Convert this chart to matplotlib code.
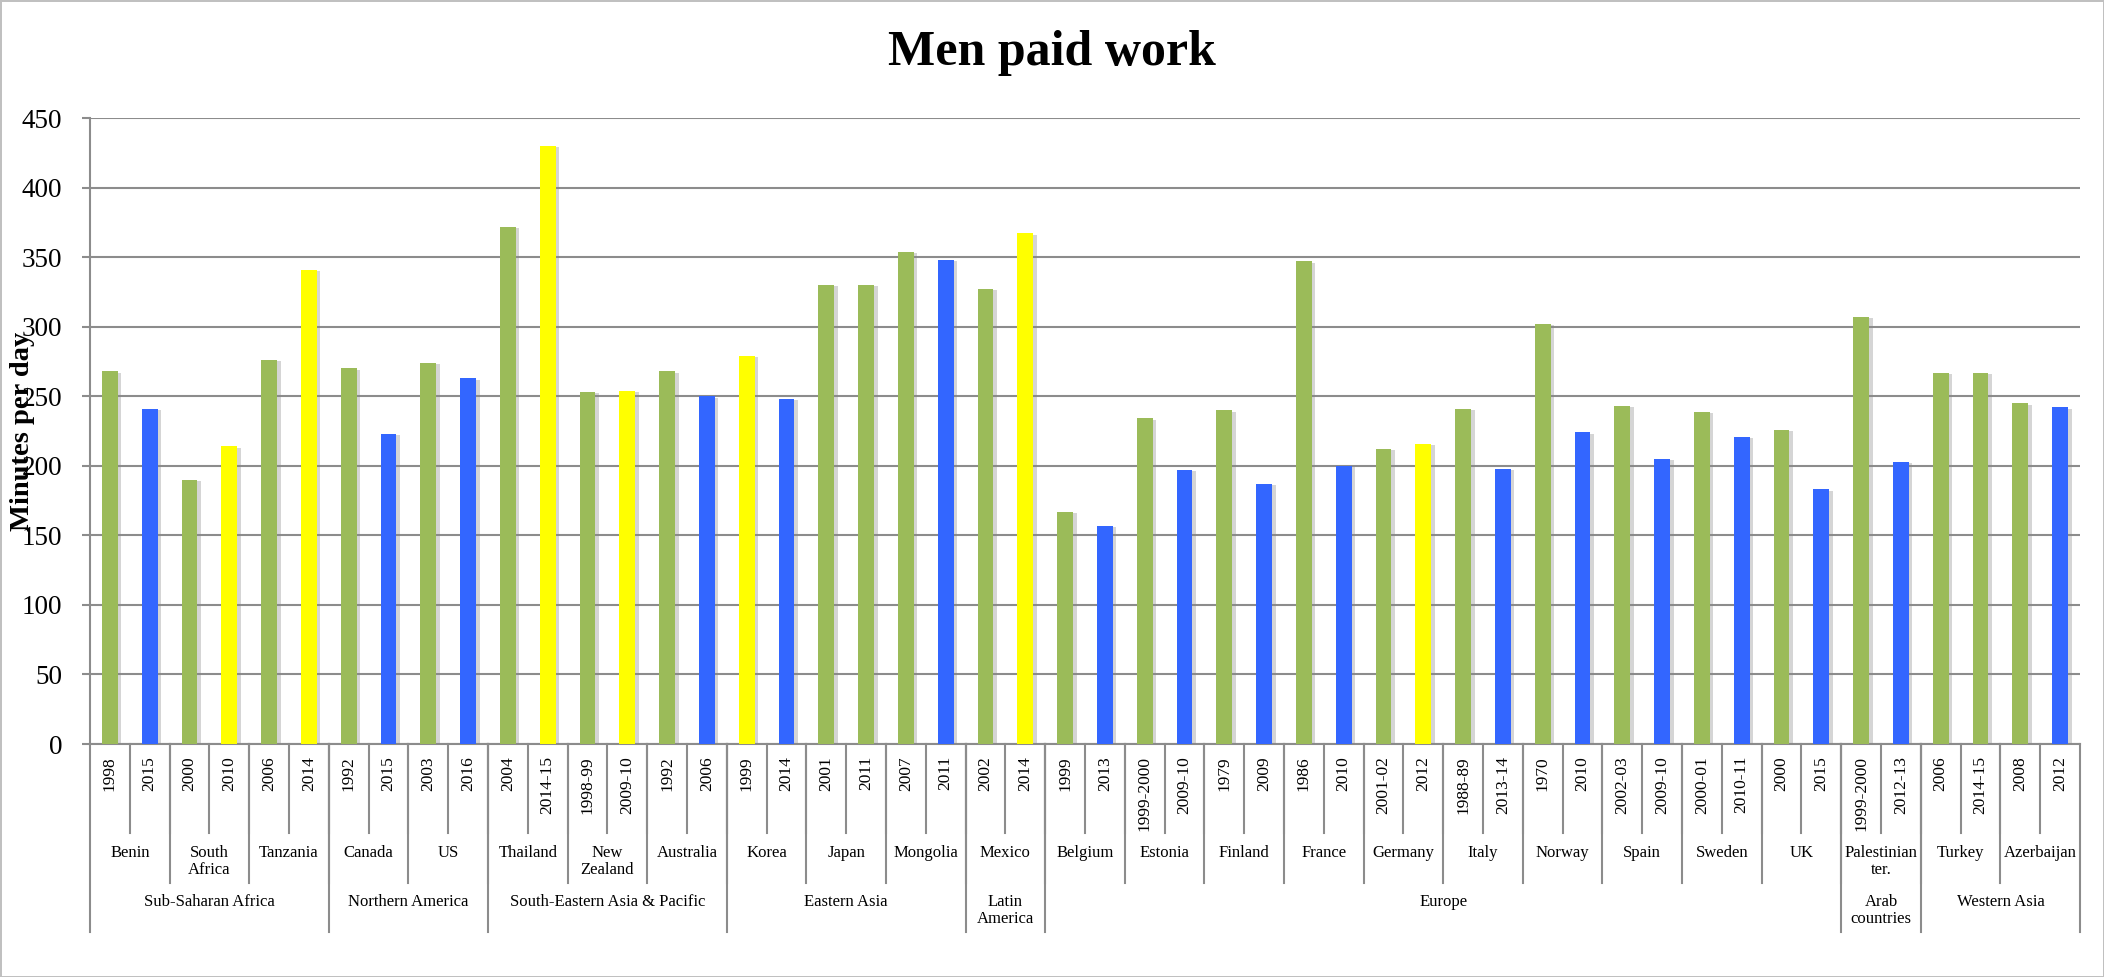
import matplotlib.pyplot as plt
import matplotlib.patheffects as pe
import matplotlib.transforms as mtransforms

# minutes per day spent in paid work by men, two surveys per country
years = ['1998', '2015', '2000', '2010', '2006', '2014', '1992', '2015', '2003', '2016',
         '2004', '2014-15', '1998-99', '2009-10', '1992', '2006', '1999', '2014', '2001', '2011',
         '2007', '2011', '2002', '2014', '1999', '2013', '1999-2000', '2009-10', '1979', '2009',
         '1986', '2010', '2001-02', '2012', '1988-89', '2013-14', '1970', '2010', '2002-03', '2009-10',
         '2000-01', '2010-11', '2000', '2015', '1999-2000', '2012-13', '2006', '2014-15', '2008', '2012']

minutes = [268, 241, 190, 214, 276, 341, 270, 223, 274, 263,
           372, 430, 253, 254, 268, 250, 279, 248, 330, 330,
           354, 348, 327, 367, 167, 157, 234, 197, 240, 187,
           347, 200, 212, 216, 241, 198, 302, 224, 243, 205,
           239, 221, 226, 183, 307, 203, 267, 267, 245, 242]

# series group of every bar (A / B / C)
series = ['A', 'B', 'A', 'C', 'A', 'C', 'A', 'B', 'A', 'B',
          'A', 'C', 'A', 'C', 'A', 'B', 'C', 'B', 'A', 'A',
          'A', 'B', 'A', 'C', 'A', 'B', 'A', 'B', 'A', 'B',
          'A', 'B', 'A', 'C', 'A', 'B', 'A', 'B', 'A', 'B',
          'A', 'B', 'A', 'B', 'A', 'B', 'A', 'A', 'A', 'B']

countries = ['Benin', 'South\nAfrica', 'Tanzania', 'Canada', 'US', 'Thailand', 'New\nZealand',
             'Australia', 'Korea', 'Japan', 'Mongolia', 'Mexico', 'Belgium', 'Estonia', 'Finland',
             'France', 'Germany', 'Italy', 'Norway', 'Spain', 'Sweden', 'UK', 'Palestinian\nter.',
             'Turkey', 'Azerbaijan']

regions = ['Sub-Saharan Africa', 'Northern America', 'South-Eastern Asia & Pacific', 'Eastern Asia',
           'Latin\nAmerica', 'Europe', 'Arab\ncountries', 'Western Asia']
countries_in_region = [3, 2, 3, 3, 1, 10, 1, 2]

palette = {'A': '#9BBB59', 'B': '#3366FF', 'C': '#FFFF00'}
grid_col = '#8c8c8c'

fig = plt.figure(figsize=(21.04, 9.77), dpi=100)
fig.patch.set_edgecolor('#c0c0c0')
fig.patch.set_linewidth(2)
ax = fig.add_axes([90 / 2104, 1 - 744 / 977, 1990 / 2104, 626 / 977])

x = list(range(len(minutes)))
bars = ax.bar(x, minutes, width=0.4, color=[palette[s] for s in series], zorder=3)
for b in bars:
    b.set_path_effects([pe.SimplePatchShadow(offset=(2.5, -1), shadow_rgbFace='#888888', alpha=0.35),
                        pe.Normal()])

ax.set_xlim(-0.5, len(minutes) - 0.5)
ax.set_ylim(0, 450)
ax.set_yticks(range(0, 451, 50))
ax.yaxis.grid(True, color=grid_col, lw=1.5, zorder=0)
ax.set_axisbelow(True)
for s in ['top', 'right']:
    ax.spines[s].set_visible(False)
for s in ['left', 'bottom']:
    ax.spines[s].set_color(grid_col)
    ax.spines[s].set_linewidth(1.5)
ax.tick_params(axis='y', length=6, width=1.5, color=grid_col, pad=14, labelsize=19.5)
for t in ax.get_yticklabels():
    t.set_fontfamily('Liberation Serif')
ax.set_xticks([])

# multi-level category axis
trans = mtransforms.blended_transform_factory(ax.transData, ax.transAxes)
year_bot = -(833 - 744) / 626
country_bot = -(883 - 744) / 626
region_bot = -(932 - 744) / 626
serif = 'Liberation Serif'

for i, yr in enumerate(years):
    ax.text(i, -12 / 626, yr, transform=trans, rotation=90, ha='center', va='top',
            fontsize=12.5, family=serif)
    if i > 0:
        ax.plot([i - 0.5, i - 0.5], [0, year_bot], transform=trans, color=grid_col,
                lw=1.5, clip_on=False)

for k, name in enumerate(countries):
    ax.text(2 * k + 0.5, -(845 - 744) / 626, name, transform=trans, ha='center', va='top',
            fontsize=12, family=serif, linespacing=1.1)
    if k > 0:
        ax.plot([2 * k - 0.5] * 2, [0, country_bot], transform=trans, color=grid_col,
                lw=1.5, clip_on=False)

start = 0
edges = [0]
for name, n in zip(regions, countries_in_region):
    end = start + 2 * n
    ax.text((start + end - 1) / 2, -(894 - 744) / 626, name, transform=trans, ha='center',
            va='top', fontsize=12, family=serif, linespacing=1.1)
    edges.append(end)
    start = end
for e in edges:
    ax.plot([e - 0.5] * 2, [0, region_bot], transform=trans, color=grid_col,
            lw=1.5, clip_on=False)

fig.text(0.5, 1 - 65 / 977, 'Men paid work', ha='center', va='baseline',
         fontsize=36, fontweight='bold', family=serif)
fig.text(23 / 2104, 1 - 431 / 977, 'Minutes per day', rotation=90, ha='center', va='center',
         fontsize=20.5, fontweight='bold', family=serif)

fig.savefig('out.png', dpi=100, edgecolor=fig.get_edgecolor())
